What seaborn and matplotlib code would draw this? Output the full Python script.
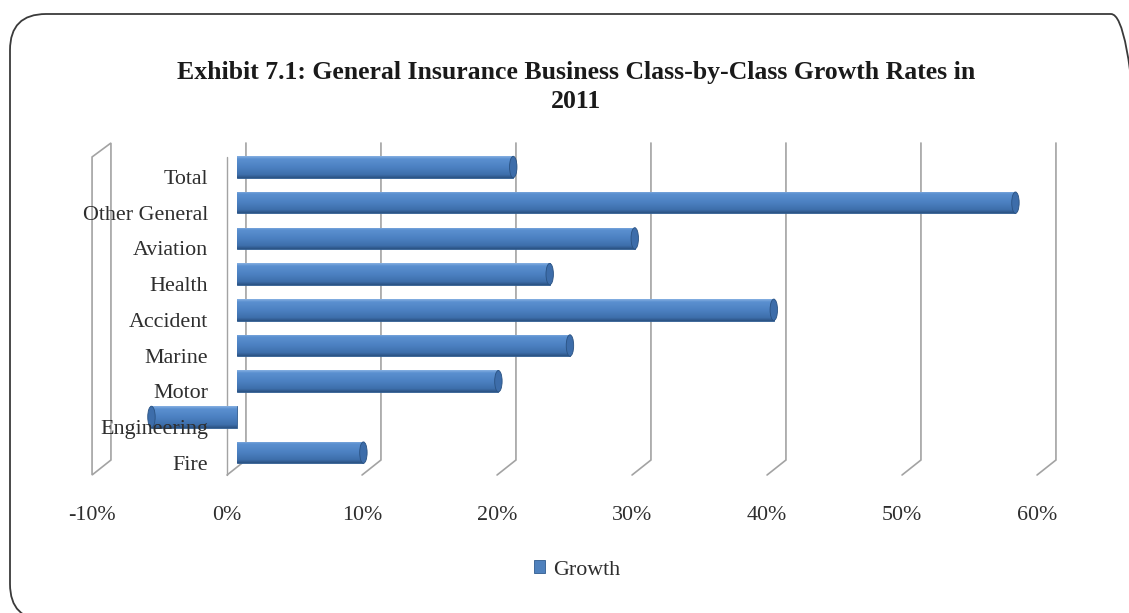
import numpy as np
import pandas as pd
import matplotlib
matplotlib.use("Agg")
import matplotlib.pyplot as plt
from matplotlib.colors import LinearSegmentedColormap
from matplotlib.patches import Ellipse, Polygon, FancyBboxPatch
from matplotlib.transforms import ScaledTranslation
import seaborn as sns

# ---- data -------------------------------------------------------------
categories = ["Total", "Other General", "Aviation", "Health", "Accident",
              "Marine", "Motor", "Engineering", "Fire"]
growth = [20.5, 57.7, 29.5, 23.2, 39.8, 24.7, 19.4, -6.3, 9.4]
tick_values = [-10, 0, 10, 20, 30, 40, 50, 60]
tick_labels = [f"{v}%" for v in tick_values]
series_name = "Growth"
title = "Exhibit 7.1: General Insurance Business Class-by-Class Growth Rates in\n2011"

df = pd.DataFrame({"category": categories, "growth": growth})

# ---- style ------------------------------------------------------------
sns.set_theme(style="white")
plt.rcParams["font.family"] = ["Liberation Serif", "DejaVu Serif"]
text_col = "#2e2e2e"
bar_col = "#4f81bd"
grid_col = "#a3a3a3"

W, H, DPI = 1129, 613, 100
fig = plt.figure(figsize=(W / DPI, H / DPI), dpi=DPI, facecolor="white")

# axes placed so that the bar plane spans the chart area
ax_left, ax_right = 74.5, 1087.0
ax_top, ax_bot = 140.2, 479.4
ax = fig.add_axes([ax_left / W, 1 - ax_bot / H,
                   (ax_right - ax_left) / W, (ax_bot - ax_top) / H])
ax.set_facecolor("none")

sns.barplot(data=df, x="growth", y="category", orient="h", color=bar_col,
            saturation=1, width=0.6, errorbar=None, label=series_name,
            ax=ax, zorder=3)

# ---- pseudo-3D walls and gridlines ----------------------------------
# depth offsets (back / front plane relative to the bar plane)
dx = 0.70          # in % units
y_back_top, y_back_bot = -0.672, 8.207
y_front_top, y_front_bot = -0.28, 8.627

for v in tick_values:
    xb, xf = v + dx, v - dx
    if v == tick_values[0]:
        wall = Polygon([(xf, y_front_top), (xb, y_back_top), (xb, y_back_bot),
                        (xf, y_front_bot)], closed=True, fill=False,
                       edgecolor=grid_col, lw=1.2, zorder=1)
        ax.add_patch(wall)
    else:
        ax.plot([xb, xb, xf], [y_back_top, y_back_bot, y_front_bot],
                color=grid_col, lw=1.2, zorder=1, solid_joinstyle="miter")
        if v == 0:
            ax.plot([xf, xf], [y_front_top, y_front_bot], color=grid_col,
                    lw=1.0, zorder=1)

# ---- cylinder shading on the bars -----------------------------------
cyl = LinearSegmentedColormap.from_list(
    "cyl", [(0.0, "#86b0e2"), (0.12, "#5b90d0"), (0.5, "#4c81c2"),
            (0.85, "#3e6fac"), (1.0, "#2a5282")])
grad = np.linspace(0, 1, 64).reshape(-1, 1)
for bar, val in zip(ax.patches[:len(categories)], growth):
    x0, y0 = bar.get_x(), bar.get_y()
    w, h = bar.get_width(), bar.get_height()
    bar.set_edgecolor("#2f5b8f")
    bar.set_linewidth(0.6)
    im = ax.imshow(grad, cmap=cyl, aspect="auto", origin="upper",
                   extent=(min(x0, x0 + w), max(x0, x0 + w), y0 + h, y0),
                   zorder=3.1, interpolation="bilinear")
    im.set_clip_path(bar)
    cap = Ellipse((val, y0 + h / 2), width=0.55, height=h,
                  facecolor="#3d6daa", edgecolor="#2a5282", lw=0.6, zorder=3.2)
    ax.add_patch(cap)

ax.set_xlim(-12, 63)
ax.set_ylim(8.75, -0.75)
ax.set_xticks(tick_values)
ax.set_xticklabels(tick_labels)
ax.set_xlabel("")
ax.set_ylabel("")
for s in ax.spines.values():
    s.set_visible(False)
ax.tick_params(axis="x", length=0, pad=19, labelsize=15.8, labelcolor=text_col)
ax.tick_params(axis="y", length=0, pad=0, labelsize=15.8, labelcolor=text_col)
# category labels are printed over the bars
ax.yaxis.set_zorder(5)

# tick labels sit on the front plane of the 3-D box
for lbl in ax.get_xticklabels():
    lbl.set_transform(lbl.get_transform() +
                      ScaledTranslation(-0.095, 0, fig.dpi_scale_trans))
for lbl in ax.get_yticklabels():
    lbl.set_transform(lbl.get_transform() +
                      ScaledTranslation((208 - ax_left) / DPI, -0.10,
                                        fig.dpi_scale_trans))

# ---- title and legend ------------------------------------------------
fig.text(576 / W, 1 - 87 / H, title, ha="center", va="center",
         fontsize=18.5, fontweight="bold", color="#1a1a1a", linespacing=1.3)

handles, labels = ax.get_legend_handles_labels()
ax.legend(handles[:1], labels[:1], loc="center",
          bbox_to_anchor=(577 / W, 1 - 570 / H), bbox_transform=fig.transFigure,
          frameon=False, fontsize=15.8, labelcolor=text_col,
          handlelength=0.5, handleheight=0.5, handletextpad=0.35)

# ---- rounded frame around the chart ---------------------------------
frame = FancyBboxPatch((0.10, -0.07), 11.37, 6.06,
                       boxstyle="round,pad=0,rounding_size=0.36",
                       transform=fig.dpi_scale_trans, fill=False,
                       edgecolor="#3a3a3a", lw=1.3, clip_on=False)
fig.add_artist(frame)

fig.savefig("out.png", dpi=DPI, facecolor="white")
